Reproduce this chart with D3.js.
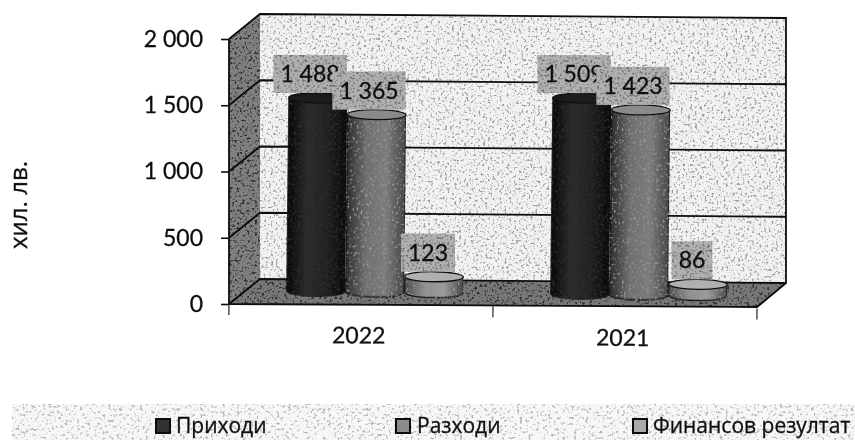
<!DOCTYPE html>
<html><head><meta charset="utf-8">
<script src="https://cdn.jsdelivr.net/npm/d3@7"></script>
<style>html,body{margin:0;background:#fff}svg{display:block}text{font-family:"Open Sans","Noto Sans",sans-serif;fill:#111;stroke:#111;stroke-width:.3px}</style>
</head><body><svg id="c" width="855" height="440"></svg>
<script>
const categories=["2022","2021"];
const seriesNames=["Приходи","Разходи","Финансов резултат"];
const incomes=[1488,1509];
const expenses=[1365,1423];
const result=[123,86];
const yTicks=[0,500,1000,1500,2000];
const tickLabels=["0","500","1 000","1 500","2 000"];
const axisTitle="хил. лв.";
const seriesValues=[incomes,expenses,result];

const svg=d3.select("#c"),defs=svg.append("defs");
function speck(id,ch,k,b,f,seed){
  const fl=defs.append("filter").attr("id",id).attr("x",0).attr("y",0).attr("width","100%").attr("height","100%")
    .attr("color-interpolation-filters","sRGB");
  fl.append("feTurbulence").attr("type","fractalNoise").attr("baseFrequency",f).attr("numOctaves",4).attr("seed",seed).attr("result","n");
  fl.append("feColorMatrix").attr("in","n").attr("type","matrix")
    .attr("values",`0 0 0 0 ${ch} 0 0 0 0 ${ch} 0 0 0 0 ${ch} ${k} 0 0 0 ${b}`).attr("result","m");
  fl.append("feComposite").attr("in","m").attr("in2","SourceAlpha").attr("operator","in").attr("result","s");
  fl.append("feGaussianBlur").attr("in","s").attr("stdDeviation",0.45).attr("result","sb");
  const m=fl.append("feMerge");m.append("feMergeNode").attr("in","SourceGraphic");m.append("feMergeNode").attr("in","sb");
}
speck("wall",0.6,5,-2.75,0.42,4);
speck("label",0.45,5,-2.6,0.4,6);
speck("dark",0.18,6,-3.3,0.4,7);
speck("barSpeck",0.62,7,-4.2,0.45,13);
speck("band",0.72,6,-3.4,0.35,11);
const blur=defs.append("filter").attr("id","soft");blur.append("feGaussianBlur").attr("stdDeviation",0.45);

const grads=[["g0",["#050505","#2c2c2c","#222","#080808"]],["g1",["#2c2c2c","#6e6e6e","#7c7c7c","#454545"]],["g2",["#4c4c4c","#8e8e8e","#9a9a9a","#4a4a4a"]]];
grads.forEach(([id,c])=>{const g=defs.append("linearGradient").attr("id",id);
  c.forEach((s,i)=>g.append("stop").attr("offset",i/(c.length-1)).attr("stop-color",s));});

const root=svg.append("g").attr("filter","url(#soft)");
const y=d3.scaleLinear().domain([0,2000]).range([304,39]);
const x0=d3.scaleBand().domain(categories).range([229,757]);
const x1=d3.scaleBand().domain([0,1,2]).range([0,177]);
const yBar=d3.scaleLinear().domain([0,2000]).range([290.5,30.5]);
const line=d3.line();
const dx=31,dyL=-25,dyR=-21;

root.append("rect").attr("x",12).attr("y",404).attr("width",843).attr("height",36).attr("fill","#f7f7f7").attr("filter","url(#band)");
root.append("path").attr("d",line([[260,13],[786,17],[786,283],[260,279]])+"Z").attr("fill","#f2f2f2").attr("filter","url(#wall)");
root.append("path").attr("d",line([[229,39],[260,13],[260,279],[229,304]])+"Z").attr("fill","#808080").attr("filter","url(#dark)");
root.append("path").attr("d",line([[229,304],[260,279],[786,283],[757,307]])+"Z").attr("fill","#787878").attr("filter","url(#dark)");
const grid=root.append("g").attr("fill","none").attr("stroke","#0c0c0c").attr("stroke-width",1.8);
yTicks.forEach(t=>{const p=y(t);
  grid.append("path").attr("d",line([[229,p],[229+dx,p+dyL],[786,p+dyR]]));});
grid.append("path").attr("d",line([[229,39],[229,304],[757,307],[786,283],[786,17]]));
const yAxis=root.append("g").attr("transform","translate(229,0)")
 .call(d3.axisLeft(y).tickValues(yTicks).tickSize(8).tickPadding(18).tickFormat((d,i)=>tickLabels[i]));
yAxis.select(".domain").remove();
yAxis.selectAll("line").attr("stroke","#111").attr("stroke-width",1.6);
yAxis.selectAll("text").style("font-size","23px").attr("fill","#111").style("font-family","Lato,'Open Sans'");
const xAxis=root.append("g").attr("transform","translate(0,304) rotate(0.5,229,0)")
 .call(d3.axisBottom(x0).tickSize(0).tickPadding(22));
xAxis.select(".domain").remove();
xAxis.selectAll("text").style("font-size","23px").attr("fill","#111").attr("dx",-2).style("font-family","Lato,'Open Sans'");
[229,...categories.map(c=>x0(c)+x0.bandwidth())].forEach(v=>xAxis.append("line").attr("x1",v).attr("x2",v).attr("y1",0).attr("y2",11).attr("stroke","#222").attr("stroke-width",1.2));

const tilt=root.append("g").attr("transform","rotate(0.62,229,304)");
const ry=5;
categories.forEach((c,ci)=>{
  const gx=x0(c)+x0.bandwidth()/2+14-88.5;
  seriesValues.forEach((vals,si)=>{
    const bx=gx+x1(si),w=x1.bandwidth()-0.5,top=yBar(vals[ci]),base=yBar(0);
    const d=`M${bx},${top}L${bx},${base}A${w/2},${ry} 0 0 0 ${bx+w},${base}L${bx+w},${top}Z`;
    tilt.append("path").attr("d",d).attr("fill",`url(#g${si})`).attr("stroke","#111").attr("stroke-width",si?1.3:0.8).attr("filter",si?"url(#barSpeck)":"url(#dark)");
    tilt.append("ellipse").attr("cx",bx+w/2).attr("cy",top).attr("rx",w/2).attr("ry",ry)
      .attr("fill",["#1b1b1b","#8a8a8a","#b0b0b0"][si]).attr("stroke","#111").attr("stroke-width",1.3);
  });
});
const labels=root.append("g");
seriesValues.forEach((vals,si)=>{
  categories.forEach((c,ci)=>{
    const gx=x0(c)+x0.bandwidth()/2+14-88.5;
    const cx=gx+x1(si)+x1.bandwidth()/2-6;
    const tiltY=(cx-229)*Math.tan(0.62*Math.PI/180);
    const bottom=yBar(vals[ci])-ry+tiltY;
    const s=d3.format(",")(vals[ci]).replace(","," ");
    const t=labels.append("text").text(s).attr("x",cx).attr("y",bottom-11).attr("text-anchor","middle")
      .style("font-size","23px").style("font-family","Lato,'Open Sans'");
    const w=t.node().getComputedTextLength()+14;
    labels.insert("rect",()=>t.node()).attr("x",cx-w/2).attr("y",bottom-38).attr("width",w).attr("height",38)
      .attr("fill","#b0b0b0").attr("filter","url(#label)");
  });
});
root.append("text").attr("transform","translate(27,205) rotate(-90)").attr("text-anchor","middle").text(axisTitle)
  .style("font-size","24px");
const legX=[155,395,632],legT=[176,417,653];
const leg=root.append("g");
seriesNames.forEach((n,i)=>{
  leg.append("rect").attr("x",legX[i]+1).attr("y",419).attr("width",14).attr("height",14)
    .attr("fill",["#333","#8c8c8c","#aaa"][i]).attr("stroke","#0a0a0a").attr("stroke-width",2);
  leg.append("text").attr("x",legT[i]).attr("y",433).text(n).style("font-size","21px");
});
</script></body></html>
